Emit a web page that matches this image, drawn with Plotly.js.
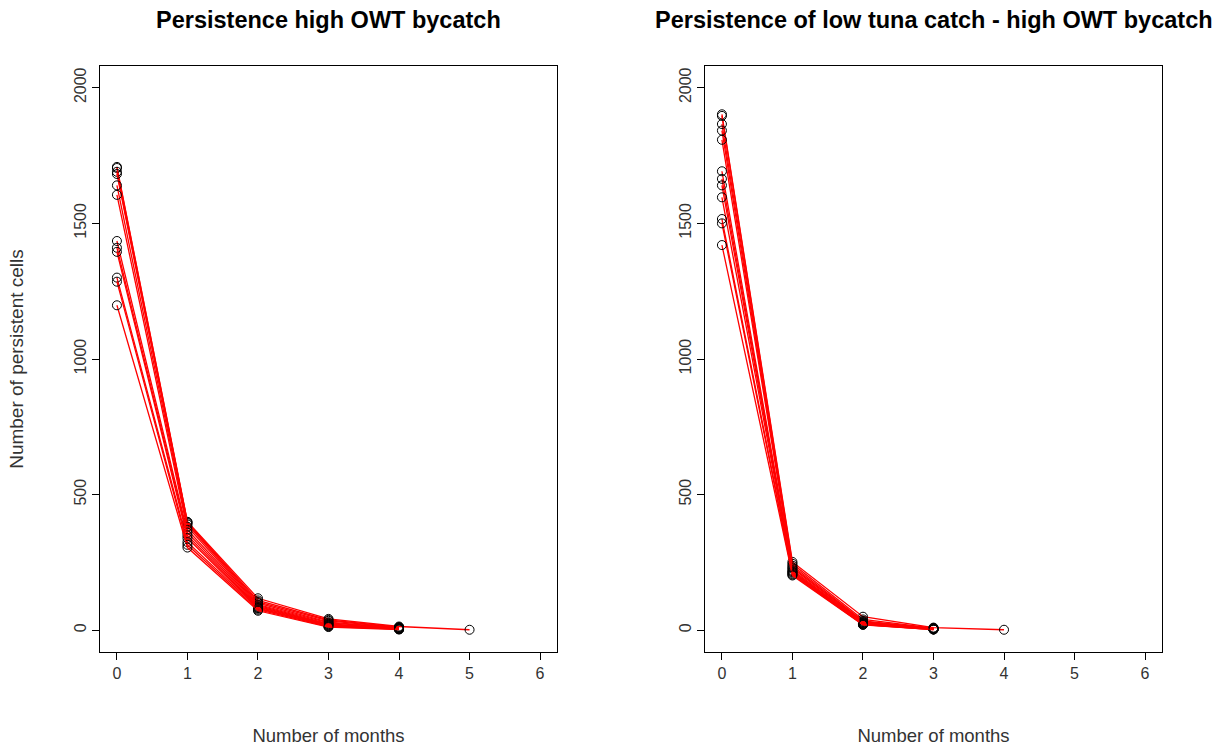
<!DOCTYPE html>
<html>
<head>
<meta charset="utf-8">
<script src="https://cdn.plot.ly/plotly-3.0.1.min.js"></script>
<style>
  html, body { margin: 0; padding: 0; background: #fff; }
  #chart { width: 1224px; height: 746px; }
</style>
</head>
<body>
<div id="chart"></div>
<script>
// Months since first detection (x values shared by every series)
const months = [0, 1, 2, 3, 4, 5, 6];
const monthTicks = [0, 1, 2, 3, 4, 5, 6];
const cellTicks = [0, 500, 1000, 1500, 2000];

// Persistent cells per month, one row per series: high OWT bycatch
const highOwt = [
  [1708, 400, 118, 42, 14, 2],
  [1704, 398, 110, 38, 12],
  [1690, 395, 105, 35, 10],
  [1682, 390, 100, 30, 9],
  [1640, 382, 95, 27, 8],
  [1605, 370, 92, 24, 7],
  [1435, 360, 88, 22, 6],
  [1410, 350, 85, 20, 5],
  [1395, 340, 82, 18, 5],
  [1300, 325, 80, 16, 4],
  [1285, 315, 76, 14, 4],
  [1198, 305, 72, 12, 3]
];

// Persistent cells per month: low tuna catch together with high OWT bycatch
const lowTunaHighOwt = [
  [1902, 252, 50, 10, 2],
  [1896, 245, 40, 8],
  [1866, 238, 35, 7],
  [1842, 232, 32, 6],
  [1808, 228, 30, 6],
  [1692, 222, 28, 5],
  [1664, 218, 26, 5],
  [1640, 215, 25, 4],
  [1596, 212, 24, 4],
  [1516, 208, 22, 3],
  [1500, 205, 21, 3],
  [1420, 202, 20, 3]
];

const panelTitles = ['Persistence high OWT bycatch', 'Persistence of low tuna catch - high OWT bycatch'];
const xTitle = 'Number of months';
const yTitle = 'Number of persistent cells';

const FONT = 'Liberation Sans, Arial, sans-serif';

function seriesTraces(rows, xa, ya) {
  return rows.map(vals => ({
    type: 'scatter',
    mode: 'lines+markers',
    x: months.slice(0, vals.length),
    y: vals,
    xaxis: xa,
    yaxis: ya,
    showlegend: false,
    hoverinfo: 'x+y',
    line: { color: '#ff0000', width: 1.3 },
    marker: { symbol: 'circle-open', size: 9, color: '#000', line: { width: 1, color: '#000' } }
  }));
}

const traces = [].concat(
  seriesTraces(highOwt, 'x', 'y'),
  seriesTraces(lowTunaHighOwt, 'x2', 'y2')
);

const W = 1224, H = 746;
const px = v => v / W;
const py = v => 1 - v / H;

function xAxis(domain, anchor) {
  return {
    domain: domain, anchor: anchor,
    range: [-0.24, 6.24],
    tickmode: 'array', tickvals: monthTicks, ticktext: monthTicks.map(String),
    showgrid: false, zeroline: false,
    showline: true, mirror: true, linecolor: '#000', linewidth: 1,
    ticks: 'outside', ticklen: 7, tickcolor: '#000', tickwidth: 1,
    tickfont: { family: FONT, size: 16, color: '#333' },
    title: { text: xTitle, font: { family: FONT, size: 18.5, color: '#333' }, standoff: 50 },
    automargin: false
  };
}

function yAxis(domain, anchor, withTitle) {
  const ax = {
    domain: domain, anchor: anchor,
    range: [-80, 2080],
    tickmode: 'array', tickvals: cellTicks, ticktext: cellTicks.map(String),
    tickangle: -90,
    showgrid: false, zeroline: false,
    showline: true, mirror: true, linecolor: '#000', linewidth: 1,
    ticks: 'outside', ticklen: 7, tickcolor: '#000', tickwidth: 1,
    tickfont: { family: FONT, size: 16, color: '#333' },
    automargin: false
  };
  if (withTitle) {
    ax.title = { text: yTitle, font: { family: FONT, size: 19, color: '#333' }, standoff: 42 };
  }
  return ax;
}

const yDom = [py(652), py(66)];

const layout = {
  width: W, height: H,
  margin: { l: 0, r: 0, t: 0, b: 0 },
  paper_bgcolor: '#fff', plot_bgcolor: '#fff',
  font: { family: FONT, color: '#333' },
  xaxis: xAxis([px(100), px(557)], 'y'),
  yaxis: yAxis(yDom, 'x', true),
  xaxis2: xAxis([px(705), px(1162)], 'y2'),
  yaxis2: yAxis(yDom, 'x2', false),
  annotations: [
    { text: '<b>' + panelTitles[0] + '</b>', xref: 'paper', yref: 'paper',
      x: px(328.5), y: py(20), xanchor: 'center', yanchor: 'middle', showarrow: false,
      font: { family: FONT, size: 23.5, color: '#000' } },
    { text: '<b>' + panelTitles[1] + '</b>', xref: 'paper', yref: 'paper',
      x: px(933.5), y: py(20), xanchor: 'center', yanchor: 'middle', showarrow: false,
      font: { family: FONT, size: 23.5, color: '#000' } }
  ]
};

Plotly.newPlot('chart', traces, layout, { staticPlot: true, displayModeBar: false });
</script>
</body>
</html>
